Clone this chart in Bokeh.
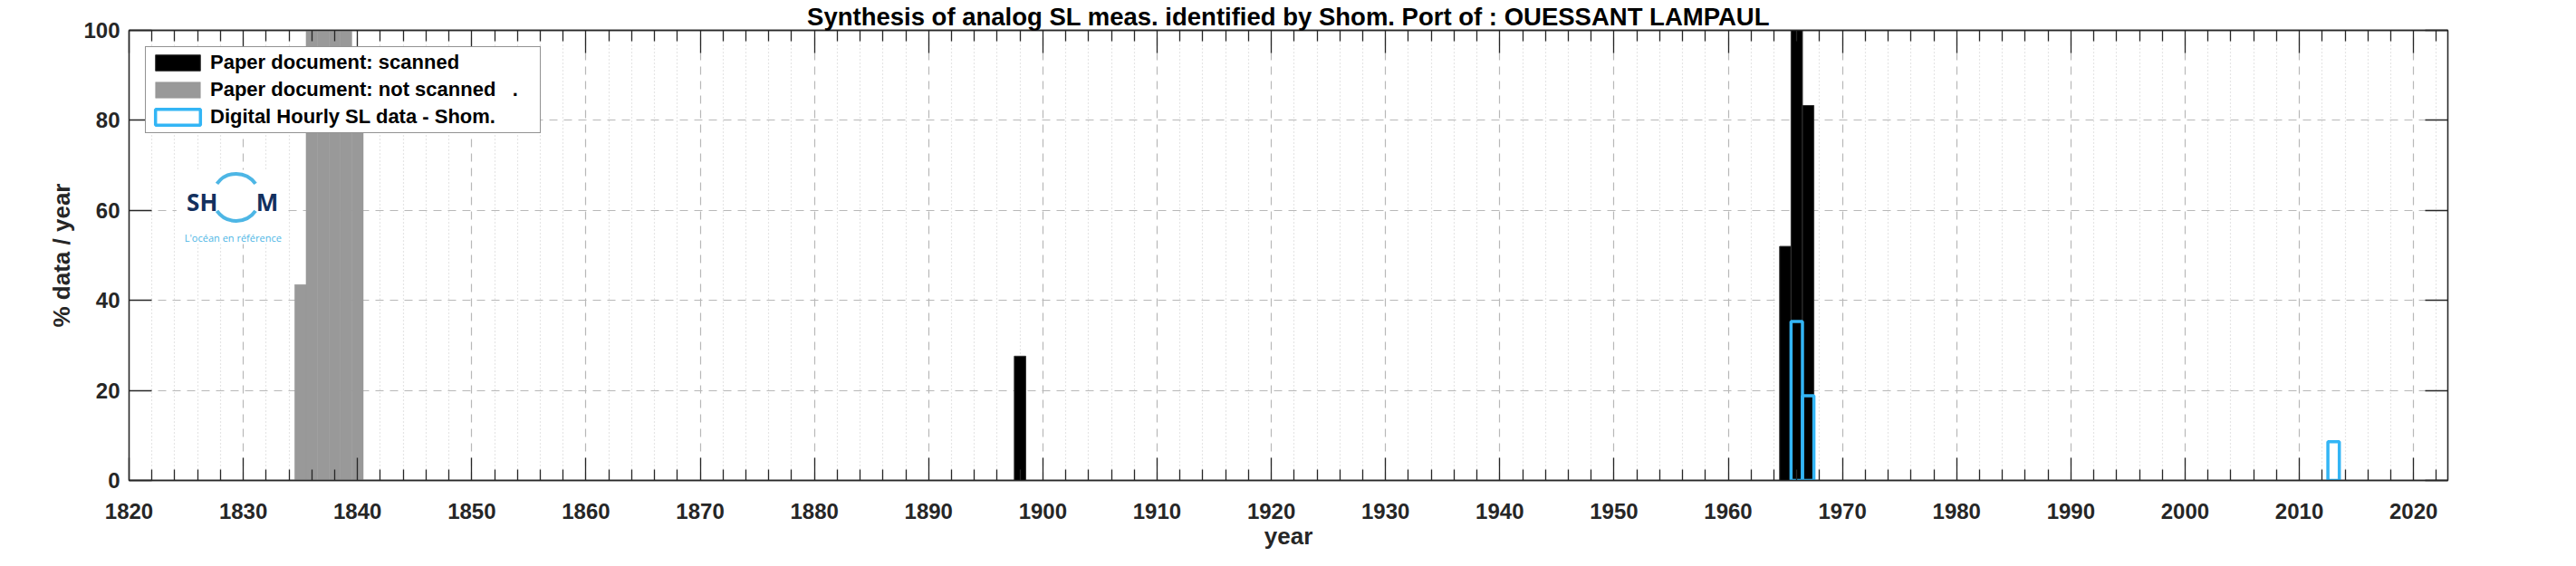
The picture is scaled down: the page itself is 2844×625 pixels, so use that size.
from bokeh.plotting import figure
from bokeh.models import (Range1d, FixedTicker, LinearAxis, Legend, LegendItem,
                          Label, CustomJSTickFormatter)
from bokeh.embed import file_html
from bokeh.resources import INLINE

# ---------------- data ----------------
title_text = "Synthesis of analog SL meas. identified by Shom. Port of : OUESSANT LAMPAUL"

not_scanned_years = [1835, 1836, 1837, 1838, 1839, 1840]
not_scanned_pct = [43.5, 100, 100, 100, 100, 88]

scanned_years = [1898, 1965, 1966, 1967]
scanned_pct = [27.6, 52.0, 100, 83.3]

digital_years = [1966, 1967, 2013]
digital_pct = [35.3, 18.8, 8.6]

legend_labels = ["Paper document: scanned",
                 "Paper document: not scanned   .",
                 "Digital Hourly SL data - Shom."]

x_major = list(range(1820, 2021, 10))
x_minor = [y for y in range(1822, 2023, 2) if y % 10 != 0]
y_major = [0, 20, 40, 60, 80, 100]

# ---------------- styles ----------------
FONT = "Liberation Sans"
AX = "#262626"
GRAY = "#999999"
BLUE = "#33B5F5"

p = figure(width=2828, height=609, x_range=Range1d(1820, 2023), y_range=Range1d(0, 100),
           output_backend="svg", toolbar_location=None,
           min_border_left=142, min_border_right=126, min_border_top=32, min_border_bottom=79,
           background_fill_color="white", border_fill_color="white")
p.title.text = title_text
p.title.align = "center"
p.title.text_font = FONT
p.title.text_font_style = "bold"
p.title.text_font_size = "27.5px"
p.title.text_color = "black"
p.title.standoff = 0
p.outline_line_color = AX
p.outline_line_width = 1.3

xticker = FixedTicker(ticks=x_major, minor_ticks=x_minor)
yticker = FixedTicker(ticks=y_major, minor_ticks=[])

def style_axis(ax, ticker, labels=True):
    ax.ticker = ticker
    ax.axis_line_color = AX
    ax.axis_line_width = 1.3
    ax.major_tick_line_color = AX
    ax.major_tick_line_width = 1.3
    ax.minor_tick_line_color = AX
    ax.minor_tick_line_width = 1.3
    ax.major_tick_in = 25
    ax.major_tick_out = 0
    ax.minor_tick_in = 12
    ax.minor_tick_out = 0
    ax.major_label_text_font = FONT
    ax.major_label_text_font_style = "bold"
    ax.major_label_text_font_size = "24px"
    ax.major_label_text_color = AX
    ax.axis_label_text_font = FONT
    ax.axis_label_text_font_style = "bold"
    ax.axis_label_text_font_size = "26px"
    ax.axis_label_text_color = AX
    if not labels:
        ax.formatter = CustomJSTickFormatter(code="return ''")
        ax.major_label_standoff = 0

xax = p.xaxis[0]
style_axis(xax, xticker)
xax.axis_label = "year"
xax.major_label_standoff = 25
xax.axis_label_standoff = 1

yax = p.yaxis[0]
style_axis(yax, yticker)
yax.axis_label = "% data / year"
yax.major_label_standoff = 10
yax.axis_label_standoff = 6

top_ax = LinearAxis()
style_axis(top_ax, xticker, labels=False)
p.add_layout(top_ax, "above")
right_ax = LinearAxis()
style_axis(right_ax, yticker, labels=False)
p.add_layout(right_ax, "right")

# grids
p.xgrid.ticker = xticker
p.xgrid.grid_line_color = "#b8b8b8"
p.xgrid.grid_line_dash = "9 7"
p.xgrid.grid_line_width = 1.2
p.xgrid.minor_grid_line_color = "#cccccc"
p.xgrid.minor_grid_line_dash = "1 3"
p.xgrid.minor_grid_line_width = 1.2
p.ygrid.ticker = yticker
p.ygrid.grid_line_color = "#b8b8b8"
p.ygrid.grid_line_dash = "9 7"
p.ygrid.grid_line_width = 1.2

# ---------------- SHOM logo (decoration) ----------------
p.quad(left=1824.15, right=1833.55, bottom=52.5, top=69.0, fill_color="white", line_color=None)
p.arc(x=1829.38, y=62.9, radius=26, radius_units="screen", start_angle=35, end_angle=145,
      start_angle_units="deg", end_angle_units="deg", line_color="#4DB6E5", line_width=4)
p.arc(x=1829.38, y=62.9, radius=26, radius_units="screen", start_angle=215, end_angle=325,
      start_angle_units="deg", end_angle_units="deg", line_color="#4DB6E5", line_width=4)
p.add_layout(Label(x=1826.4, y=61.8, text="SH", text_align="center", text_baseline="alphabetic",
                   text_font="Open Sans", text_font_style="bold", text_font_size="26px",
                   text_color="#13305E"))
p.add_layout(Label(x=1832.1, y=61.8, text="M", text_align="center", text_baseline="alphabetic",
                   text_font="Open Sans", text_font_style="bold", text_font_size="26px",
                   text_color="#13305E"))
p.add_layout(Label(x=1829.1, y=53.9, text="L'océan en référence", text_align="center",
                   text_baseline="alphabetic", text_font="Open Sans", text_font_size="11px",
                   text_color="#4DB6E5"))

# ---------------- bars ----------------
r_gray = p.vbar(x=not_scanned_years, top=not_scanned_pct, width=1, bottom=0,
                fill_color=GRAY, line_color=GRAY, line_width=0.5)
r_black = p.vbar(x=scanned_years, top=scanned_pct, width=1, bottom=0,
                 fill_color="black", line_color="#333333", line_width=1)
r_blue = p.vbar(x=digital_years, top=digital_pct, width=1, bottom=0,
                fill_color=None, line_color=BLUE, line_width=3.5)

legend = Legend(items=[LegendItem(label=legend_labels[0], renderers=[r_black]),
                       LegendItem(label=legend_labels[1], renderers=[r_gray]),
                       LegendItem(label=legend_labels[2], renderers=[r_blue])],
                location="top_left")
legend.label_text_font = FONT
legend.label_text_font_style = "bold"
legend.label_text_font_size = "22px"
legend.label_text_color = "black"
legend.glyph_width = 62
legend.glyph_height = 22
legend.label_height = 22
legend.label_width = 360
legend.label_standoff = 5
legend.spacing = 4
legend.padding = 4
legend.margin = 18
legend.border_line_color = AX
legend.border_line_width = 1.3
legend.background_fill_color = "white"
legend.background_fill_alpha = 1
p.add_layout(legend)

open("out.html", "w").write(file_html(p, INLINE))
